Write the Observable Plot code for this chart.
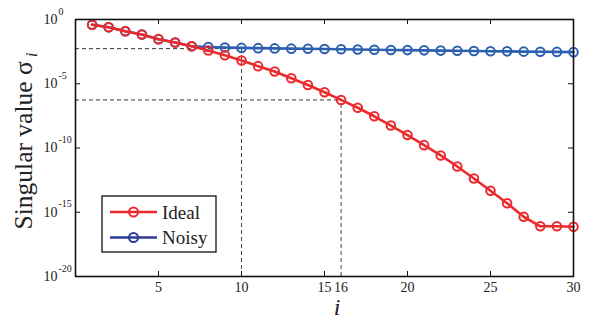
<!DOCTYPE html>
<html><head><meta charset="utf-8">
<script src="https://cdn.jsdelivr.net/npm/d3@7"></script>
<script src="https://cdn.jsdelivr.net/npm/@observablehq/plot@0.6"></script>
<style>body{margin:0;background:#fff} svg text{font-family:"Liberation Serif","Times New Roman",Times,serif !important;}</style>
</head><body><div id="chart"></div>
<script>
// index i
const idx = [1,2,3,4,5,6,7,8,9,10,11,12,13,14,15,16,17,18,19,20,21,22,23,24,25,26,27,28,29,30];
// log10 of singular values
const idealLog10 = [-0.41,-0.60,-0.91,-1.17,-1.53,-1.79,-2.08,-2.41,-2.78,-3.19,-3.63,-4.05,-4.57,-5.10,-5.66,-6.26,-6.87,-7.53,-8.25,-8.99,-9.78,-10.58,-11.44,-12.37,-13.33,-14.30,-15.35,-16.09,-16.09,-16.13];
const noisyLog10 = [-0.41,-0.60,-0.91,-1.17,-1.53,-1.79,-2.08,-2.14,-2.18,-2.21,-2.23,-2.25,-2.27,-2.28,-2.30,-2.32,-2.33,-2.35,-2.37,-2.38,-2.40,-2.42,-2.43,-2.45,-2.47,-2.48,-2.50,-2.51,-2.52,-2.54];
// dashed guide points
const guideI = [10, 16];
const guideLog10 = [-2.27, -6.26];
// ticks
const xTickMarks = [5,10,15,20,25];
const xTickLabels = [5,10,15,16,20,25,30];
const yTickExp = [0,-5,-10,-15,-20];
const yInnerTickExp = [-5,-10,-15];
const seriesNames = ["Ideal","Noisy"];
const seriesColors = ["#ec2a2e","#2c5fb0"];
const legendColors = ["#ec2a2e","#2b3a98"];

const ideal = idx.map((i,k)=>({i, v: 10**idealLog10[k]}));
const noisy = idx.map((i,k)=>({i, v: 10**noisyLog10[k]}));
const guides = guideI.map((i,k)=>({i, v: 10**guideLog10[k]}));
const yTicks = yTickExp.map(e=>({e, v: 10**e}));
const yInner = yInnerTickExp.map(e=>10**e);

const W=592, H=320, mL=75, mR=19, mT=19, mB=44;
const pw = W-mL-mR, ph = H-mT-mB;
const FONT = '"Liberation Serif","Times New Roman",Times,serif';

const plot = Plot.plot({
  width: W, height: H,
  marginLeft: mL, marginRight: mR, marginTop: mT, marginBottom: mB,
  style: {fontFamily: FONT, background: "#fff", color: "#222"},
  x: {domain: [0,30]},
  y: {type: "log", domain: [1e-20, 1], axis: null},
  marks: [
    Plot.ruleY(guides, {y: "v", x1: 0, x2: "i", stroke: "#333", strokeWidth: 1, strokeDasharray: "4,3"}),
    Plot.ruleX(guides, {x: "i", y1: 1e-20, y2: "v", stroke: "#444", strokeWidth: 1, strokeDasharray: "4,3"}),
    Plot.line(noisy, {x: "i", y: "v", stroke: seriesColors[1], strokeWidth: 2.6}),
    Plot.dot(noisy, {x: "i", y: "v", r: 4.3, stroke: seriesColors[1], strokeWidth: 2, fill: "none"}),
    Plot.line(ideal, {x: "i", y: "v", stroke: seriesColors[0], strokeWidth: 2.6}),
    Plot.dot(ideal, {x: "i", y: "v", r: 4.3, stroke: seriesColors[0], strokeWidth: 2, fill: "none"}),
    Plot.tickX(xTickMarks, {x: d=>d, stroke: "#111", insetTop: ph-5}),
    Plot.tickX(xTickMarks, {x: d=>d, stroke: "#111", insetBottom: ph-5}),
    Plot.tickY(yInner, {y: d=>d, stroke: "#111", insetRight: pw-5}),
    Plot.tickY(yInner, {y: d=>d, stroke: "#111", insetLeft: pw-5}),
    Plot.frame({stroke: "#111", strokeWidth: 1.6}),
    Plot.axisX(xTickLabels, {tickSize: 0, tickPadding: 6, fontSize: 14, tickFormat: d=>String(d), label: null}),
    Plot.text(yTicks, {y: "v", text: ()=>"10", frameAnchor: "left", dx: -32, textAnchor: "start", fontSize: 14, fill: "#222"}),
    Plot.text(yTicks, {y: "v", text: d=>String(d.e), frameAnchor: "left", dx: -17, dy: -8, textAnchor: "start", fontSize: 10, fill: "#222"})
  ]
});
document.getElementById("chart").appendChild(plot);

const svg = d3.select(plot);
// y label
const yl = svg.append("text")
  .attr("transform", "translate(32,141) rotate(-90)")
  .attr("text-anchor", "middle")
  .attr("font-family", FONT)
  .attr("font-size", 25.5)
  .attr("fill", "#222");
yl.append("tspan").text("Singular value σ");
yl.append("tspan").attr("font-style", "italic").attr("font-size", 17).attr("dy", 5).attr("dx", 4).text("i");
// x label
svg.append("text")
  .attr("x", 337).attr("y", 315)
  .attr("text-anchor", "middle")
  .attr("font-family", FONT)
  .attr("font-style", "italic")
  .attr("font-size", 24)
  .attr("fill", "#222")
  .text("i");
// legend
const lg = svg.append("g");
lg.append("rect").attr("x", 102).attr("y", 196).attr("width", 114).attr("height", 56)
  .attr("fill", "#fff").attr("stroke", "#111").attr("stroke-width", 1.3);
seriesNames.forEach((name, k) => {
  const y = 212 + k*25.5;
  lg.append("line").attr("x1", 110).attr("x2", 157).attr("y1", y).attr("y2", y)
    .attr("stroke", legendColors[k]).attr("stroke-width", 2.6);
  lg.append("circle").attr("cx", 133.5).attr("cy", y).attr("r", 4.5)
    .attr("fill", "none").attr("stroke", legendColors[k]).attr("stroke-width", 2);
  lg.append("text").attr("x", 162).attr("y", y + 6.5)
    .attr("text-anchor", "start")
    .attr("font-family", FONT).attr("font-size", 19).attr("fill", "#222")
    .text(name);
});
</script>
</body></html>
